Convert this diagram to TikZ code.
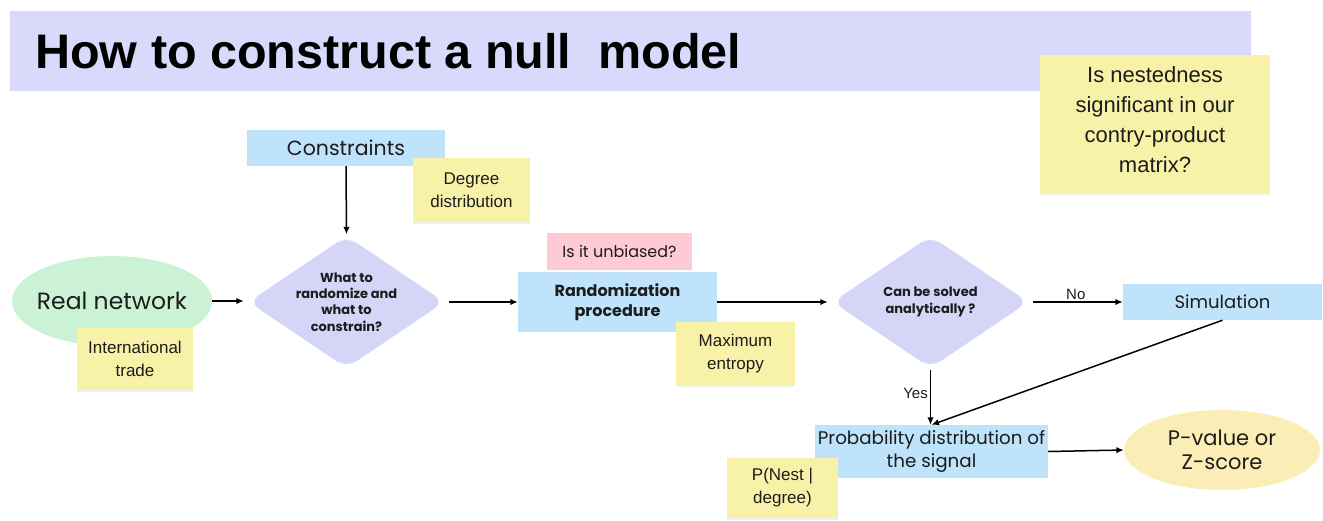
\documentclass[tikz,border=0pt]{standalone}
\usepackage{fontspec}
\setmainfont{Liberation Sans}
\newfontfamily\pop{Poppins}
\usetikzlibrary{shapes.geometric,arrows.meta,shadows}
\definecolor{cBand}{HTML}{D8D9FB}
\definecolor{cNote}{HTML}{F8F2A9}
\definecolor{cBlue}{HTML}{BEE3FA}
\definecolor{cDia}{HTML}{D5D5F8}
\definecolor{cGreen}{HTML}{CCF2D5}
\definecolor{cPink}{HTML}{FECAD4}
\definecolor{cYell}{HTML}{FBEDB6}
\definecolor{cText}{HTML}{1C1C1C}
\tikzset{
  stickynote/.style={fill=cNote, inner sep=0pt, align=center, text=cText,
     drop shadow={opacity=0.12, shadow xshift=0pt, shadow yshift=-2pt},
     font=\fontsize{17}{23}\selectfont},
  bbox/.style={fill=cBlue, inner sep=0pt, align=center, text=cText},
  dia/.style={diamond, fill=cDia, inner sep=0pt, rounded corners=12pt,
     minimum width=196, minimum height=132},
  diatext/.style={align=center, text=cText, inner sep=0pt,
     font=\pop\bfseries\fontsize{13}{16.3}\selectfont},
  ell/.style={ellipse, inner sep=0pt},
  elltext/.style={align=center, text=cText, inner sep=0pt},
  arr/.style={-{Latex[length=7.5pt,width=6.5pt]}, line width=1.5pt, black},
  lbl/.style={font=\fontsize{15}{18}\selectfont, text=cText, inner sep=2pt}
}
\begin{document}
\begin{tikzpicture}[x=1pt,y=-1pt]
\useasboundingbox (0,0) rectangle (1323,520);
% title band
\node[fill=cBand, minimum width=1241, minimum height=80, inner sep=0pt] (band) at (630.5,51) {};
\node[anchor=base west, inner sep=0pt, font=\bfseries\fontsize{48.5}{50}\selectfont] (title) at (35,68) {How to construct a null\ \ model};
\node[stickynote, minimum width=230, minimum height=138,
  label={[elltext, yshift=4pt, font=\fontsize{22}{30}\selectfont]center:Is nestedness\\significant in our\\contry-product\\matrix?}] (q) at (1155,124) {};
% constraints
\node[bbox, minimum width=198, minimum height=36, font=\pop\fontsize{20.5}{24}\selectfont] (cons) at (346,148) {Constraints};
\node[stickynote, minimum width=117, minimum height=64] (deg) at (471.5,190) {Degree\\distribution};
% real network
\node[ell, fill=cGreen, minimum width=200, minimum height=90,
  label={[elltext, font=\pop\fontsize{23.5}{26}\selectfont]center:Real network}] (real) at (112,301) {};
\node[stickynote, minimum width=116, minimum height=62] (intl) at (135,359) {International\\trade};
% diamond 1
\node[dia, label={[diatext]center:What to\\randomize and\\what to\\constrain?}] (d1) at (346.5,302) {};
% randomization
\node[fill=cPink, minimum width=145, minimum height=37, inner sep=0pt, text=cText, font=\pop\fontsize{16}{20}\selectfont] (unb) at (619.5,251.5) {Is it unbiased?};
\node[bbox, minimum width=199, minimum height=60, font=\pop\bfseries\fontsize{16}{20}\selectfont] (rand) at (617.5,302) {Randomization\\procedure};
\node[stickynote, minimum width=119, minimum height=63] (maxent) at (735.5,353.5) {Maximum\\entropy};
% diamond 2
\node[dia, label={[diatext]center:Can be solved\\analytically ?}] (d2) at (930.5,302) {};
% simulation
\node[bbox, minimum width=199, minimum height=36, font=\pop\fontsize{18}{20}\selectfont] (sim) at (1222.5,302) {Simulation};
% probability
\node[bbox, minimum width=233, minimum height=53, font=\pop\fontsize{18.3}{23}\selectfont] (prob) at (931.5,451.5) {Probability distribution of\\the signal};
\node[stickynote, minimum width=111, minimum height=60] (pnest) at (782.5,488) {P(Nest |\\degree)};
% p-value
\node[ell, fill=cYell, minimum width=196, minimum height=80,
  label={[elltext, font=\pop\fontsize{21}{24}\selectfont]center:P-value or\\Z-score}] (pval) at (1222,450) {};
% connectors
\draw[arr, shorten >=1.5pt] (cons.south) -- (d1.north);
\draw[arr, shorten >=4.5pt] (real.east) -- (real.east -| d1.west);
\draw[arr, shorten <=4.5pt] (d1.east) -- (rand.west);
\draw[arr, shorten >=4.5pt] (rand.east) -- (d2.west);
\draw[arr, shorten <=4.5pt] (d2.east) -- node[lbl, above, pos=0.5] {No} (sim.west);
\draw[arr, shorten <=1.5pt] (d2.south) -- node[lbl, left, pos=0.45] {Yes} (d2.south |- prob.north);
\draw[arr] (sim.south) -- (prob.north);
\draw[arr] (prob.east) -- (pval.west);
\end{tikzpicture}
\end{document}
